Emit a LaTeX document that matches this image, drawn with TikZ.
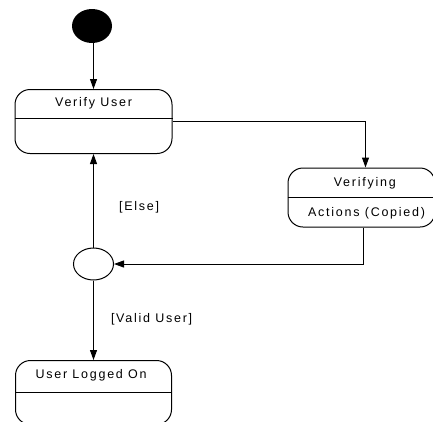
\documentclass[tikz,border=0pt]{standalone}
\usepackage{fontspec}
\setmainfont{Liberation Sans}
\usetikzlibrary{arrows.meta,shapes.geometric}
\tikzset{
  statebox/.style={draw, rounded corners=15pt, inner sep=0pt, line width=1pt},
  lbl/.style={inner sep=0pt, anchor=base, font=\fontsize{12.5}{14}\selectfont\addfontfeatures{LetterSpace=14}},
  conn/.style={line width=1pt},
  arr/.style={conn, -{Triangle[length=10pt,width=7pt]}},
}
\begin{document}
\begin{tikzpicture}[x=1pt, y=1pt]
\useasboundingbox (0,0) rectangle (433,-421);

% initial pseudo-state
\node[fill=black, ellipse, minimum width=40pt, minimum height=34pt, inner sep=0pt] (init) at (92,-26) {};

% states
\node[statebox, minimum width=157pt, minimum height=64pt] (verify) at (93.5,-121.5) {};
\node[statebox, minimum width=147pt, minimum height=59pt] (verifying) at (361.5,-197.5) {};
\node[statebox, minimum width=156pt, minimum height=64pt] (loggedon) at (93.5,-392.5) {};

% decision
\node[draw, ellipse, line width=1pt, minimum width=40pt, minimum height=32pt, inner sep=0pt] (decision) at (93.5,-264) {};

% compartment dividers
\draw[conn] (verify.west |- 0,-118.5) -- (verify.east |- 0,-118.5);
\draw[conn] (verifying.west |- 0,-197.5) -- (verifying.east |- 0,-197.5);
\draw[conn] (loggedon.west |- 0,-392.5) -- (loggedon.east |- 0,-392.5);

% state texts
\node[lbl] (tverify) at (93.6,-106.7) {Verify User};
\node[lbl] (tverifying) at (364.8,-186) {Verifying};
\node[lbl] (tactions) at (366.6,-216.7) {Actions (Copied)};
\node[lbl] (tloggedon) at (91.1,-378) {User Logged On};

% transitions
\draw[arr] (init.south -| decision.north) -- (verify.north -| decision.north);
\draw[arr] (verify.east) -| ([xshift=4pt]verifying.north);
\draw[arr] ([xshift=1.5pt]verifying.south) |- (decision.east);
\draw[arr] (decision.north) -- (verify.south -| decision.north);
\draw[arr] (decision.south) -- (loggedon.north -| decision.south);

% guards
\node[lbl] (gelse) at (139.1,-210.7) {[Else]};
\node[lbl] (gvalid) at (151.6,-322.7) {[Valid User]};
\end{tikzpicture}
\end{document}
